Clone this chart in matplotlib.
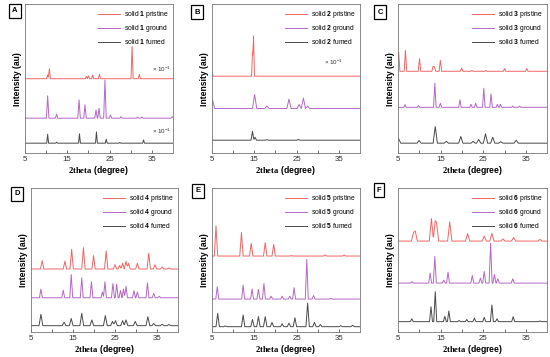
import numpy as np
import matplotlib
matplotlib.use("Agg")
import matplotlib.pyplot as plt
from matplotlib.ticker import FixedLocator

plt.rcParams['font.family'] = ['Liberation Sans', 'DejaVu Sans']
plt.rcParams['mathtext.fontset'] = 'custom'
plt.rcParams['mathtext.rm'] = 'Liberation Sans'
plt.rcParams['mathtext.bf'] = 'Liberation Sans:bold'
plt.rcParams['mathtext.sf'] = 'Liberation Serif:bold'

# peak lists: (2theta, height) ; heights in plot units (ylim 0..10)
# panel A (solid 1)
a_pristine = [(10.4, 0.25), (10.8, 0.67), (19.5, 0.15), (20.0, 0.2), (21.0, 0.25),
              (22.6, 0.3), (30.3, 2.17), (32.0, 0.3)]
a_ground = [(10.4, 1.5), (12.5, 0.27), (17.8, 1.23), (19.2, 0.9), (21.8, 0.55), (22.5, 0.67),
            (23.9, 2.57), (25.2, 0.22), (27.7, 0.1), (31.6, 0.07), (32.6, 0.07), (39.8, 0.1)]
a_fumed = [(10.4, 0.6), (12.5, 0.07), (17.9, 0.63), (21.9, 0.76), (24.2, 0.27),
           (27.4, 0.05), (33.0, 0.22)]
# panel B (solid 2)
b_pristine = [(5.2, 0.1), (14.6, 1.6), (14.85, 2.7)]
b_ground = [(5.2, 0.55), (15.1, 0.94), (18.0, 0.17), (23.2, 0.63), (25.6, 0.27),
            (26.6, 0.7), (27.6, 0.16)]
b_fumed = [(14.6, 0.6), (15.2, 0.2), (18.0, 0.04), (25.4, 0.05)]
# panel C (solid 3)
c_pristine = [(5.1, 1.3), (6.7, 1.4), (10.0, 0.85), (13.2, 0.33), (13.5, 0.3), (14.9, 0.74),
              (19.9, 0.22), (22.3, 0.05), (25.6, 0.05), (30.0, 0.18), (35.2, 0.18)]
c_ground = [(6.6, 0.18), (9.8, 0.12), (13.6, 1.63), (14.9, 0.27), (19.5, 0.5), (22.1, 0.2),
            (23.2, 0.27), (25.1, 1.28), (26.8, 0.9), (28.3, 0.2), (29.0, 0.2), (31.9, 0.08),
            (33.5, 0.08)]
c_fumed = [(5.1, 0.3), (9.9, 0.18), (13.7, 1.12), (16.3, 0.13), (19.7, 0.45), (22.6, 0.12),
           (23.9, 0.25), (25.5, 0.63), (27.2, 0.4), (29.1, 0.1), (32.7, 0.2)]
# panel D (solid 4)
d_pristine = [(7.7, 0.58), (13.1, 0.54), (14.7, 1.37), (17.5, 1.48), (19.9, 0.93), (22.9, 1.25),
              (25.0, 0.3), (26.1, 0.25), (26.8, 0.4), (27.6, 0.54), (28.2, 0.4), (30.3, 0.4),
              (33.0, 1.09), (34.5, 0.3), (36.2, 0.15), (37.8, 0.08)]
d_ground = [(7.4, 0.6), (12.7, 0.53), (14.6, 1.62), (17.1, 1.39), (19.4, 1.11), (22.0, 0.4),
            (22.6, 1.11), (24.5, 1.0), (25.4, 0.95), (26.3, 0.5), (27.0, 0.6), (27.6, 0.8),
            (29.5, 0.5), (30.3, 0.4), (32.7, 1.04), (34.2, 0.3), (35.5, 0.1)]
d_fumed = [(7.4, 0.79), (12.9, 0.25), (14.6, 0.5), (17.1, 0.86), (19.5, 0.4), (22.7, 0.7),
           (24.4, 0.3), (25.1, 0.35), (26.8, 0.35), (27.6, 0.4), (29.8, 0.3), (32.8, 0.62),
           (34.2, 0.15), (36.2, 0.1), (37.8, 0.08)]
# panel E (solid 5)
e_pristine = [(6.0, 2.1), (12.0, 1.64), (14.3, 0.88), (17.6, 0.93), (19.6, 0.81),
              (23.8, 0.03), (31.7, 0.08), (36.2, 0.07)]
e_ground = [(6.3, 0.86), (12.4, 0.97), (14.5, 0.7), (16.0, 0.67), (17.3, 1.09), (19.0, 0.2),
            (21.6, 0.2), (23.4, 0.2), (24.4, 0.79), (27.4, 2.76), (29.0, 0.25), (33.0, 0.05)]
e_fumed = [(6.4, 0.93), (8.2, 0.05), (12.4, 0.81), (14.6, 0.5), (16.0, 0.7), (17.6, 0.7),
           (19.2, 0.3), (21.6, 0.2), (23.2, 0.25), (24.6, 0.62), (27.6, 1.64), (29.2, 0.3),
           (30.6, 0.15), (35.4, 0.07), (38.2, 0.1)]
# panel F (solid 6)
f_pristine = [(8.6, 0.6), (9.0, 0.7), (12.8, 1.57), (13.7, 1.41), (14.0, 1.3), (17.1, 1.34),
              (21.3, 0.53), (25.2, 0.35), (27.0, 0.53), (29.6, 0.15), (32.1, 0.25), (38.3, 0.12)]
f_ground = [(8.2, 0.1), (12.5, 0.69), (13.6, 1.85), (15.7, 0.2), (16.7, 0.76), (22.4, 0.53),
            (24.3, 0.35), (25.2, 0.81), (26.7, 2.78), (27.6, 0.6), (28.4, 0.3), (31.9, 0.3)]
f_fumed = [(8.2, 0.2), (12.7, 1.04), (13.7, 2.08), (15.95, 0.37), (16.9, 0.74), (19.3, 0.08),
           (21.1, 0.15), (22.9, 0.25), (25.2, 0.3), (27.0, 1.16), (28.2, 0.2), (32.0, 0.35),
           (38.3, 0.05)]

# baseline offsets of each trace (pristine, ground, fumed) and peak half widths
panels = [
    ('A', '1', [a_pristine, a_ground, a_fumed], [5.0, 2.35, 0.67], [0.25, 0.3, 0.22]),
    ('B', '2', [b_pristine, b_ground, b_fumed], [5.17, 3.0, 0.87], [0.22, 0.5, 0.35]),
    ('C', '3', [c_pristine, c_ground, c_fumed], [5.5, 3.08, 0.67], [0.3, 0.3, 0.5]),
    ('D', '4', [d_pristine, d_ground, d_fumed], [4.38, 2.38, 0.44], [0.4, 0.35, 0.45]),
    ('E', '5', [e_pristine, e_ground, e_fumed], [5.28, 2.29, 0.37], [0.4, 0.35, 0.4]),
    ('F', '6', [f_pristine, f_ground, f_fumed], [6.32, 3.4, 0.72], [0.5, 0.35, 0.35]),
]
states = ['pristine', 'ground', 'fumed']
colors = ['#f36464', '#b567c8', '#4a4a4a']

# "x 10^-1" scale notes: panel, (2theta, y)
notes = {'A': [(35.0, 5.6), (35.0, 1.48)], 'B': [(31.4, 6.1)]}

# axes boxes in figure fractions and letter positions
boxes = [[0.045, 0.571, 0.270, 0.417], [0.385, 0.571, 0.270, 0.417], [0.724, 0.571, 0.271, 0.417],
         [0.056, 0.070, 0.268, 0.403], [0.385, 0.070, 0.270, 0.403], [0.724, 0.070, 0.271, 0.403]]
letters_xy = [(15, 11), (197, 12), (380, 12), (17, 194), (198, 191), (379, 190)]


def trace(peaks, base, w):
    xs = [5.0, 40.0]
    for p, h in peaks:
        xs += [p - w, p, p + w]
    xs = np.unique(np.clip(xs, 5.0, 40.0))
    ys = np.zeros(len(xs))
    for p, h in peaks:
        ys = np.maximum(ys, np.interp(xs, [p - w, p, p + w], [0, h, 0], left=0, right=0))
    return xs, ys + base


fig = plt.figure(figsize=(5.5, 3.57), dpi=100)

for (letter, num, series, offs, widths), box, lxy in zip(panels, boxes, letters_xy):
    ax = fig.add_axes(box)
    for pk, off, w, st, col in zip(series, offs, widths, states, colors):
        x, y = trace(pk, off, w)
        ax.plot(x, y, color=col, lw=0.7, label=r'solid $\mathbf{' + num + '}$ ' + st)
    for nx, ny in notes.get(letter, []):
        ax.text(nx, ny, r'× 10$^{-1}$', fontsize=4.5, color='#333333', va='center')
    ax.set_xlim(5, 40)
    ax.set_ylim(0, 10)
    ax.set_yticks([])
    ax.xaxis.set_major_locator(FixedLocator([5, 15, 25, 35]))
    ax.xaxis.set_minor_locator(FixedLocator([10, 20, 30]))
    ax.tick_params(axis='x', which='both', direction='in', length=2, width=0.5,
                   labelsize=5.7, pad=2, colors='#333333')
    for s in ax.spines.values():
        s.set_color('#777777')
        s.set_linewidth(0.6)
    ax.set_xlabel(r'$\mathsf{2theta}$ (degree)', fontsize=6.2, fontweight='bold', labelpad=1)
    ax.set_ylabel('Intensity (au)', fontsize=6.2, fontweight='bold', labelpad=2)
    ax.legend(loc='upper right', frameon=False, fontsize=4.9, handlelength=3.2,
              labelspacing=0.45, borderaxespad=0.3, handletextpad=0.6)
    fig.text(lxy[0] / 550, 1 - lxy[1] / 357, letter, fontsize=5.5, fontweight='bold',
             ha='center', va='center',
             bbox=dict(boxstyle='square,pad=0.4', fc='white', ec='black', lw=0.9))

fig.savefig('out.png', dpi=100)
